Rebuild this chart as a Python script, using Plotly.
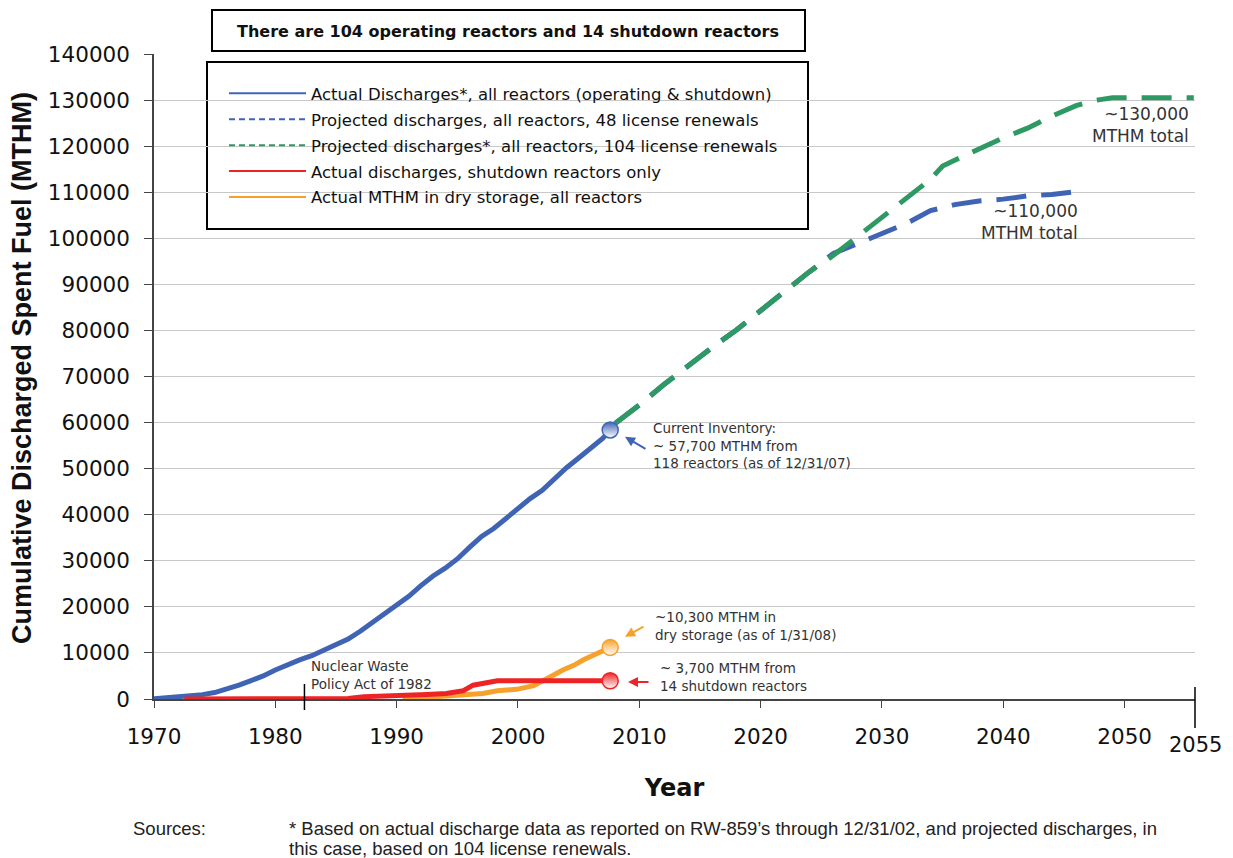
import plotly.graph_objects as go

# ---------------- data ----------------
hist_years = [1970, 1971, 1972, 1973, 1974, 1975, 1976, 1977, 1978, 1979, 1980, 1981, 1982,
              1983, 1984, 1985, 1986, 1987, 1988, 1989, 1990, 1991, 1992, 1993, 1994, 1995,
              1996, 1997, 1998, 1999, 2000, 2001, 2002, 2003, 2004, 2005, 2006, 2007, 2007.6]
hist_all = [30, 200, 400, 650, 950, 1400, 2100, 3000, 4000, 5000, 6300, 7500, 8500,
            9400, 10600, 11700, 13000, 14700, 16600, 18500, 20100, 22300, 24600, 26700, 28400, 30400,
            32900, 35300, 37000, 39200, 41500, 43500, 45300, 47800, 50200, 52300, 54600, 56600, 58400]

proj48_years = [2008, 2010, 2012, 2014, 2016, 2018, 2020, 2022, 2024, 2026, 2028, 2030,
                2032, 2034, 2036, 2038, 2040, 2042, 2044, 2046.5]
proj48_vals = [59800, 63800, 68200, 72300, 76300, 80100, 84400, 88500, 92700, 96700, 98800, 101000,
               103200, 106000, 107300, 108100, 108500, 109200, 109500, 110300]

proj104_years = [2008, 2010, 2012, 2014, 2016, 2018, 2020, 2022, 2024, 2026, 2028, 2030,
                 2032, 2034, 2035, 2036, 2038, 2040, 2042, 2044, 2046, 2047.5, 2049, 2055.7]
proj104_vals = [59800, 63800, 68200, 72300, 76300, 80100, 84400, 88500, 92700, 96300, 100400, 104600,
                108500, 112800, 115700, 117000, 119400, 121800, 123900, 126500, 128800, 129900, 130500, 130500]

shut_years = [1972.5, 1986, 1987.3, 1990.6, 1992.5, 1994.1, 1995.5, 1996.3, 1997.2, 1998.3, 2007.6]
shut_vals = [0, 100, 500, 650, 1000, 1200, 1800, 3000, 3400, 3950, 3950]

dry_years = [1990.5, 1994.4, 1995.8, 1997.1, 1998.3, 1999.9, 2001.3, 2002.1, 2003.7, 2004.6, 2005.4, 2007.6]
dry_vals = [0, 650, 950, 1200, 1800, 2100, 2900, 4100, 6300, 7300, 8500, 11200]

legend_names = ["Actual Discharges*, all reactors (operating & shutdown)",
                "Projected discharges, all reactors, 48 license renewals",
                "Projected discharges*, all reactors, 104 license renewals",
                "Actual discharges, shutdown reactors only",
                "Actual MTHM in dry storage, all reactors"]

x_ticks = [1970, 1980, 1990, 2000, 2010, 2020, 2030, 2040, 2050]
x_end = 2055.8
nwpa_year = 1982.4

BLUE = "#4064B4"
GREEN = "#2E9963"
RED = "#EE2326"
ORANGE = "#F6A12C"
FONT = "DejaVu Sans"
NOTE_FONT = "Liberation Sans"

fig = go.Figure()

# projected lines
fig.add_trace(go.Scatter(x=proj48_years, y=proj48_vals, mode="lines",
                         line=dict(color=BLUE, width=5, dash="30px,15px"), showlegend=False))
fig.add_trace(go.Scatter(x=proj104_years, y=proj104_vals, mode="lines",
                         line=dict(color=GREEN, width=5, dash="30px,15px"), showlegend=False))
# actual lines
fig.add_trace(go.Scatter(x=hist_years, y=hist_all, mode="lines",
                         line=dict(color=BLUE, width=5), showlegend=False))
fig.add_trace(go.Scatter(x=dry_years, y=dry_vals, mode="lines",
                         line=dict(color=ORANGE, width=5), showlegend=False))
fig.add_trace(go.Scatter(x=shut_years, y=shut_vals, mode="lines",
                         line=dict(color=RED, width=5), showlegend=False))

# end markers
for xs, ys, c in [(hist_years, hist_all, BLUE), (dry_years, dry_vals, ORANGE), (shut_years, shut_vals, RED)]:
    fig.add_trace(go.Scatter(x=[xs[-1]], y=[ys[-1]], mode="markers", showlegend=False,
                             marker=dict(size=16, color=c, line=dict(color=c, width=1.5),
                                         gradient=dict(type="vertical", color="white"))))

# legend entries
leg_styles = [(BLUE, "solid"), (BLUE, "6px,4px"), (GREEN, "6px,4px"), (RED, "solid"), (ORANGE, "solid")]
for i, (name, (c, d)) in enumerate(zip(legend_names, leg_styles)):
    fig.add_trace(go.Scatter(x=[None], y=[None], mode="lines", name=name, legendgroup=f"g{i}",
                             line=dict(color=c, width=2, dash=d)))

def px_x(px):
    return (px - 154) / 1041.0

def px_y(py):
    return (699 - py) / 645.0

shapes = [
    # title box
    dict(type="rect", xref="paper", yref="paper", x0=px_x(212), x1=px_x(805), y0=px_y(51), y1=px_y(10),
         line=dict(color="black", width=2), fillcolor="white", layer="between"),
    # legend box
    dict(type="rect", xref="paper", yref="paper", x0=px_x(207), x1=px_x(808), y0=px_y(229), y1=px_y(62),
         line=dict(color="black", width=2), fillcolor="white", layer="between"),
    # NWPA marker
    dict(type="line", xref="paper", yref="paper",
         x0=(nwpa_year - 1970) / (x_end - 1970), x1=(nwpa_year - 1970) / (x_end - 1970),
         y0=px_y(710), y1=px_y(684), line=dict(color="black", width=1.5)),
    # 2055 end tick
    dict(type="line", xref="paper", yref="paper", x0=1, x1=1, y0=px_y(728), y1=px_y(687),
         line=dict(color="black", width=1.5)),
]

ann_font = dict(family=FONT, size=13.5, color="#333333")
note_font = dict(family=NOTE_FONT, size=18.5, color="#222222")
annotations = [
    dict(text="<b>There are 104 operating reactors and 14 shutdown reactors</b>", xref="paper", yref="paper",
         x=px_x(508), y=px_y(31), xanchor="center", yanchor="middle", showarrow=False,
         font=dict(family=FONT, size=16, color="#111111")),
    dict(text="Current Inventory:<br>~ 57,700 MTHM from<br>118 reactors (as of 12/31/07)",
         x=2011.0, y=55130, xanchor="left", yanchor="middle", align="left", showarrow=False, font=ann_font),
    dict(text="~10,300 MTHM in<br>dry storage (as of 1/31/08)",
         x=2011.1, y=15850, xanchor="left", yanchor="middle", align="left", showarrow=False, font=ann_font),
    dict(text="~ 3,700 MTHM from<br>14 shutdown reactors",
         x=2011.5, y=4670, xanchor="left", yanchor="middle", align="left", showarrow=False, font=ann_font),
    dict(text="Nuclear Waste<br>Policy Act of 1982",
         x=1982.8, y=5210, xanchor="left", yanchor="middle", align="left", showarrow=False, font=ann_font),
    dict(text="~130,000<br>MTHM total", x=2055.47, y=124590, xanchor="right", yanchor="middle", align="right",
         showarrow=False, font=dict(family=FONT, size=17, color="#333333")),
    dict(text="~110,000<br>MTHM total", x=2046.32, y=103540, xanchor="right", yanchor="middle", align="right",
         showarrow=False, font=dict(family=FONT, size=17, color="#333333")),
    # arrows
    dict(x=2008.82, y=56900, ax=22, ay=13, text="", showarrow=True, arrowhead=2, arrowsize=1,
         arrowwidth=2, arrowcolor=BLUE),
    dict(x=2008.82, y=13500, ax=20, ay=-11, text="", showarrow=True, arrowhead=2, arrowsize=1,
         arrowwidth=2, arrowcolor=ORANGE),
    dict(x=2009.07, y=3700, ax=22, ay=0, text="", showarrow=True, arrowhead=2, arrowsize=1,
         arrowwidth=2, arrowcolor=RED),
    # 2055 end label
    dict(text="2055", xref="paper", yref="paper", x=1, y=px_y(745), xanchor="center", yanchor="middle",
         showarrow=False, font=dict(family=FONT, size=21, color="#111111")),
    # y-axis title
    dict(text="<b>Cumulative Discharged Spent Fuel (MTHM)</b>", xref="paper", yref="paper",
         x=px_x(22), y=px_y(368), xanchor="center", yanchor="middle", textangle=-90, showarrow=False,
         font=dict(family="Liberation Sans Narrow, Liberation Sans", size=27, color="#111111")),
    # sources
    dict(text="Sources:", xref="paper", yref="paper", x=px_x(131), y=px_y(828), xanchor="left",
         yanchor="middle", showarrow=False, font=note_font),
    dict(text="* Based on actual discharge data as reported on RW-859\u2019s through 12/31/02, and projected discharges, in",
         xref="paper", yref="paper", x=px_x(287), y=px_y(828), xanchor="left", yanchor="middle", align="left",
         showarrow=False, font=note_font),
    dict(text="this case, based on 104 license renewals.",
         xref="paper", yref="paper", x=px_x(287), y=px_y(848), xanchor="left", yanchor="middle", align="left",
         showarrow=False, font=note_font),
]

fig.update_layout(
    width=1233, height=858,
    margin=dict(l=154, r=38, t=54, b=159),
    paper_bgcolor="white", plot_bgcolor="white",
    font=dict(family=FONT, color="#111111"),
    shapes=shapes, annotations=annotations,
    legend=dict(x=px_x(224), y=px_y(76), xanchor="left", yanchor="top",
                bgcolor="rgba(0,0,0,0)", borderwidth=0, itemwidth=77, tracegroupgap=1.5,
                font=dict(family=FONT, size=16.5, color="#111111")),
    xaxis=dict(range=[1970, x_end], tickmode="array", tickvals=x_ticks, showgrid=False,
               showline=True, linecolor="#444444", linewidth=1.5, ticks="outside", ticklen=7,
               tickcolor="#444444", tickfont=dict(size=21.5, color="#111111"), ticklabelstandoff=10,
               zeroline=False,
               title=dict(text="<b>Year</b>", font=dict(size=24, color="#111111"), standoff=32)),
    yaxis=dict(range=[0, 140000], dtick=10000, tickformat="d", showgrid=True, gridcolor="#C8C8C8",
               gridwidth=1, showline=True, linecolor="#444444", linewidth=1.5, ticks="outside",
               ticklen=8, tickcolor="#444444", tickfont=dict(size=21.5, color="#111111"), zeroline=False,
               ticklabelstandoff=10),
)

fig.write_html("out.html", config={"displayModeBar": False},
               post_script="document.body.style.margin='0px';")
